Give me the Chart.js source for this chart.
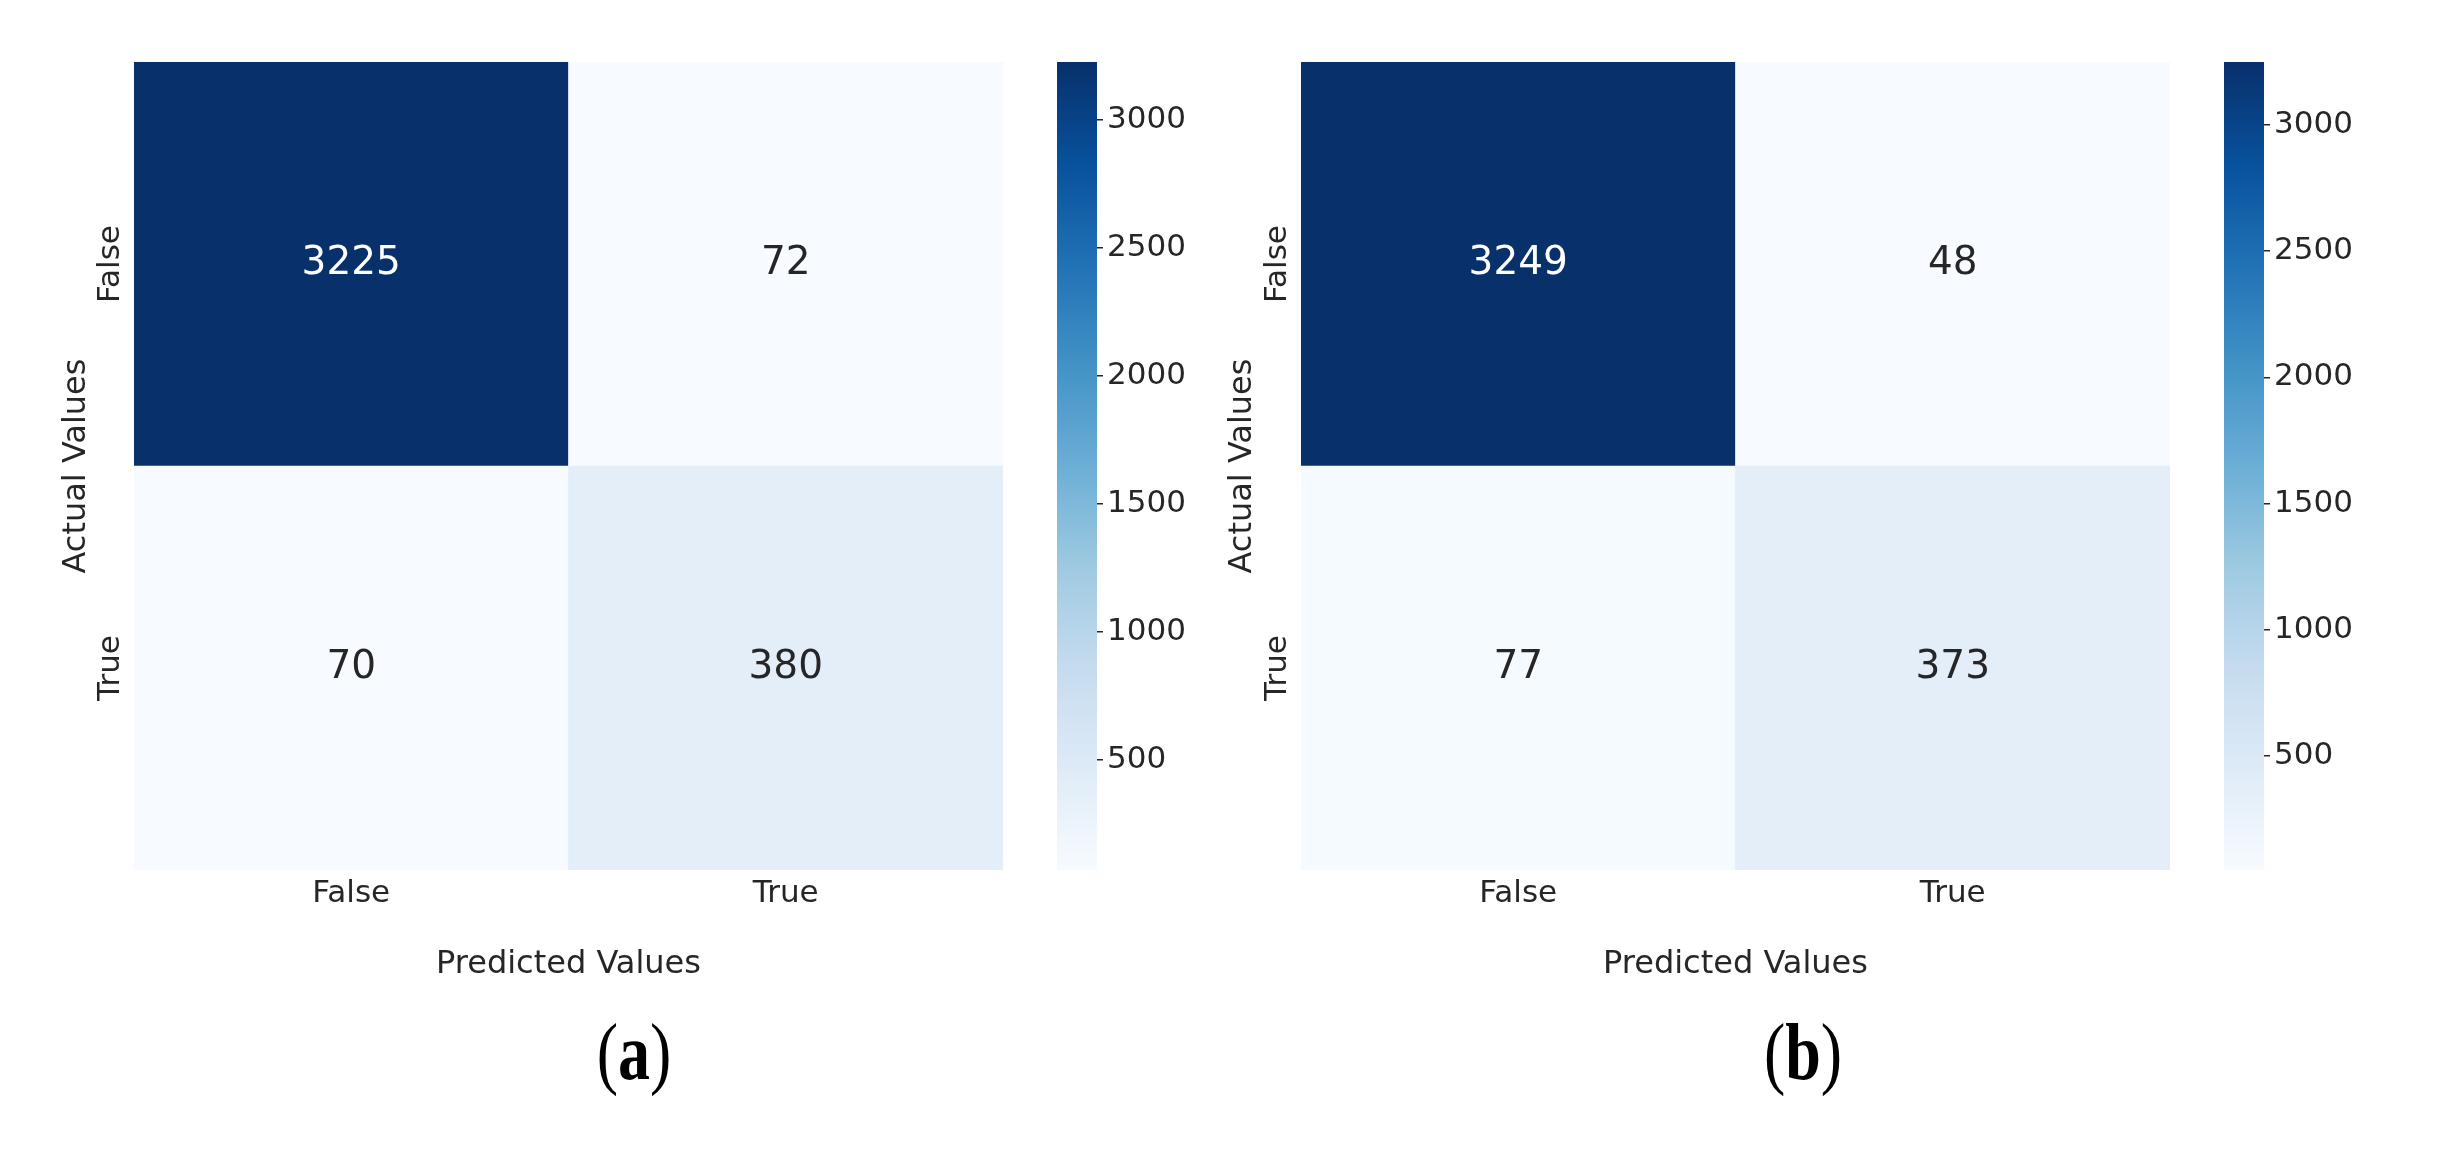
<!doctype html>
<html>
  <head>
    <meta charset="utf-8" />
    <title>Confusion matrices</title>
    <script src="https://cdn.jsdelivr.net/npm/chart.js@4.4.1/dist/chart.umd.min.js"></script>
    <style>
body {
  margin: 0;
  background: #fff;
  width: 2440px;
  height: 1152px;
  position: relative;
  overflow: hidden;
}
canvas {
  position: absolute;
  top: 0;
}
.cap {
  position: absolute;
  font-family: "Liberation Serif", "Times New Roman", serif;
  font-size: 80px;
  line-height: 1;
  color: #000;
  transform: translate(-50%, -50%) scaleX(0.8);
}
.cap b {
  font-weight: bold;
}
    </style>
  </head>
  <body>
    <canvas id="heatA" width="1010" height="1000" style="left:0px"></canvas>
    <canvas id="barA" width="180" height="1152" style="left:1057px"></canvas>
    <canvas id="heatB" width="1010" height="1000" style="left:1167px"></canvas>
    <canvas id="barB" width="180" height="1152" style="left:2224px"></canvas>
    <div class="cap" style="left:634px; top:1052px">(<b>a</b>)</div>
    <div class="cap" style="left:1803px; top:1052px">(<b>b</b>)</div>
    <script>
      // columns = predicted, rows = actual
      const predicted = ['False', 'True'];
      const actual = ['False', 'True'];

      // (a)
      const actualFalseA = [3225, 72];
      const actualTrueA = [70, 380];
      // (b)
      const actualFalseB = [3249, 48];
      const actualTrueB = [77, 373];

      const cbarTicks = [500, 1000, 1500, 2000, 2500, 3000];

      // matplotlib "Blues"
      const blues = ['#f7fbff', '#deebf7', '#c6dbef', '#9ecae1', '#6baed6', '#4292c6', '#2171b5', '#08519c', '#08306b'];
      const ink = '#262626';

      Chart.defaults.font.family = "'DejaVu Sans', sans-serif";
      Chart.defaults.color = ink;

      function hex(h) {
        return [1, 3, 5].map(i => parseInt(h.substr(i, 2), 16));
      }
      function blue(t) {
        t = Math.max(0, Math.min(1, t));
        const p = t * (blues.length - 1);
        const i = Math.min(Math.floor(p), blues.length - 2);
        const f = p - i;
        const a = hex(blues[i]), b = hex(blues[i + 1]);
        const c = a.map((v, k) => Math.round(v + (b[k] - v) * f));
        return `rgb(${c[0]}, ${c[1]}, ${c[2]})`;
      }

      const cellText = {
        id: 'cellText',
        afterDatasetsDraw(chart) {
          const ctx = chart.ctx;
          ctx.save();
          ctx.font = "39px 'DejaVu Sans'";
          ctx.textAlign = 'center';
          ctx.textBaseline = 'middle';
          chart.data.datasets.forEach((ds, i) => {
            chart.getDatasetMeta(i).data.forEach((bar, j) => {
              const p = bar.getProps(['x', 'y', 'base'], true);
              ctx.fillStyle = ds.shade[j] > 0.6 ? '#ffffff' : ink;
              ctx.fillText(ds.counts[j], p.x, (p.y + p.base) / 2);
            });
          });
          ctx.restore();
        }
      };

      function heatmap(id, rowFalse, rowTrue, vmin, vmax, titlePad) {
        const norm = v => (v - vmin) / (vmax - vmin);
        const row = (label, counts) => ({
          label: label,
          data: counts.map(() => 1),
          counts: counts,
          shade: counts.map(norm),
          backgroundColor: counts.map(v => blue(norm(v))),
          borderWidth: 0,
          barPercentage: 1,
          categoryPercentage: 1,
        });
        return new Chart(document.getElementById(id), {
          type: 'bar',
          data: {
            labels: predicted,
            datasets: [row(actual[1], rowTrue), row(actual[0], rowFalse)],
          },
          plugins: [cellText],
          options: {
            responsive: false,
            animation: false,
            events: [],
            layout: {padding: {top: 62, right: 7, left: 0, bottom: 0}},
            plugins: {legend: {display: false}, tooltip: {enabled: false}},
            scales: {
              x: {
                stacked: true,
                afterFit(s) { s.height = 130; },
                grid: {display: false, drawTicks: false},
                border: {display: false},
                ticks: {padding: 5, font: {size: 31}},
                title: {display: true, text: 'Predicted Values', font: {size: 32}, padding: {top: 0, bottom: 16}},
              },
              y: {
                stacked: true,
                min: 0,
                max: 2,
                afterFit(s) { s.width = 134; },
                afterBuildTicks(s) { s.ticks = [{value: 0.5}, {value: 1.5}]; },
                grid: {display: false, drawTicks: false},
                border: {display: false},
                ticks: {
                  minRotation: 90,
                  maxRotation: 90,
                  crossAlign: 'center',
                  padding: -16,
                  font: {size: 31},
                  callback: v => v > 1 ? actual[0] : actual[1],
                },
                title: {display: true, text: 'Actual Values', font: {size: 32}, padding: {top: titlePad, bottom: 0}},
              },
            },
          },
        });
      }

      function colorbar(id, vmin, vmax) {
        return new Chart(document.getElementById(id), {
          type: 'bar',
          data: {
            labels: [''],
            datasets: [{
              data: [[vmin, vmax]],
              borderWidth: 0,
              barPercentage: 1,
              categoryPercentage: 1,
              backgroundColor(c) {
                const area = c.chart.chartArea;
                if (!area) return blues[0];
                const g = c.chart.ctx.createLinearGradient(0, area.bottom, 0, area.top);
                blues.forEach((col, i) => g.addColorStop(i / (blues.length - 1), col));
                return g;
              },
            }],
          },
          options: {
            responsive: false,
            animation: false,
            events: [],
            layout: {padding: {top: 62, bottom: 282, left: 0, right: 0}},
            plugins: {legend: {display: false}, tooltip: {enabled: false}},
            scales: {
              x: {display: false},
              y: {
                position: 'right',
                min: vmin,
                max: vmax,
                afterFit(s) { s.width = 140; },
                afterBuildTicks(s) { s.ticks = cbarTicks.map(v => ({value: v})); },
                border: {display: false},
                grid: {drawOnChartArea: false, tickLength: 6, color: ink, lineWidth: 1.5},
                ticks: {padding: 4, font: {size: 31}, callback: v => String(v)},
              },
            },
          },
        });
      }

      heatmap('heatA', actualFalseA, actualTrueA, 70, 3225, 57);
      colorbar('barA', 70, 3225);
      heatmap('heatB', actualFalseB, actualTrueB, 48, 3249, 56);
      colorbar('barB', 48, 3249);
    </script>
  </body>
</html>
